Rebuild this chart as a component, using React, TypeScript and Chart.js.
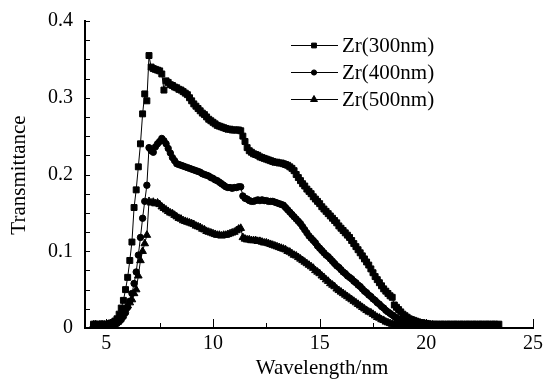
import { useEffect, useRef } from "react";
import { Chart, registerables } from "chart.js";

Chart.register(...registerables);

const wavelengths = [
  4.4, 4.5, 4.6, 4.7, 4.8, 4.9, 5.0, 5.1, 5.2, 5.3, 5.4, 5.5, 5.6, 5.7, 5.8, 5.9,
  6.0, 6.1, 6.2, 6.3, 6.4, 6.5, 6.6, 6.7, 6.8, 6.9, 7.0, 7.1, 7.2, 7.3, 7.4, 7.5, 7.6, 7.7, 7.8, 7.9,
  8.0, 8.1, 8.2, 8.3, 8.4, 8.5, 8.6, 8.7, 8.8, 8.9, 9.0, 9.1, 9.2, 9.3, 9.4, 9.5, 9.6, 9.7, 9.8, 9.9,
  10.0, 10.1, 10.2, 10.3, 10.4, 10.5, 10.6, 10.7, 10.8, 10.9, 11.0, 11.1, 11.2, 11.3, 11.4, 11.5, 11.6, 11.7, 11.8, 11.9,
  12.0, 12.1, 12.2, 12.3, 12.4, 12.5, 12.6, 12.7, 12.8, 12.9, 13.0, 13.1, 13.2, 13.3, 13.4, 13.5, 13.6, 13.7, 13.8, 13.9,
  14.0, 14.1, 14.2, 14.3, 14.4, 14.5, 14.6, 14.7, 14.8, 14.9, 15.0, 15.1, 15.2, 15.3, 15.4, 15.5, 15.6, 15.7, 15.8, 15.9,
  16.0, 16.1, 16.2, 16.3, 16.4, 16.5, 16.6, 16.7, 16.8, 16.9, 17.0, 17.1, 17.2, 17.3, 17.4, 17.5, 17.6, 17.7, 17.8, 17.9,
  18.0, 18.1, 18.2, 18.3, 18.4, 18.5, 18.6, 18.7, 18.8, 18.9, 19.0, 19.1, 19.2, 19.3, 19.4, 19.5, 19.6, 19.7, 19.8, 19.9,
  20.0, 20.1, 20.2, 20.3, 20.4, 20.5, 20.6, 20.7, 20.8, 20.9, 21.0, 21.1, 21.2, 21.3, 21.4, 21.5, 21.6, 21.7, 21.8, 21.9,
  22.0, 22.1, 22.2, 22.3, 22.4, 22.5, 22.6, 22.7, 22.8, 22.9, 23.0, 23.1, 23.2, 23.3, 23.4,
];

const zr300 = [
  0.005, 0.005, 0.004, 0.005, 0.005, 0.004, 0.005, 0.005, 0.006, 0.007, 0.009, 0.012, 0.018, 0.026, 0.036, 0.05,
  0.066, 0.088, 0.112, 0.157, 0.18, 0.21, 0.24, 0.279, 0.305, 0.296, 0.355, 0.34, 0.338, 0.337, 0.336, 0.335, 0.331, 0.31, 0.322, 0.32,
  0.317, 0.316, 0.314, 0.313, 0.311, 0.31, 0.308, 0.306, 0.304, 0.3, 0.296, 0.292, 0.289, 0.286, 0.283, 0.28, 0.278, 0.275, 0.272, 0.27,
  0.268, 0.266, 0.264, 0.263, 0.262, 0.261, 0.26, 0.259, 0.259, 0.258, 0.258, 0.258, 0.258, 0.257, 0.25, 0.243, 0.235, 0.231, 0.229, 0.227,
  0.226, 0.225, 0.223, 0.222, 0.221, 0.22, 0.219, 0.218, 0.217, 0.216, 0.216, 0.215, 0.215, 0.214, 0.213, 0.212, 0.21, 0.208, 0.205, 0.2,
  0.196, 0.192, 0.188, 0.185, 0.181, 0.178, 0.175, 0.171, 0.168, 0.165, 0.162, 0.158, 0.155, 0.152, 0.149, 0.146, 0.143, 0.14, 0.137, 0.133,
  0.13, 0.127, 0.124, 0.121, 0.118, 0.114, 0.11, 0.106, 0.102, 0.098, 0.094, 0.09, 0.086, 0.082, 0.077, 0.072, 0.067, 0.063, 0.059, 0.055,
  0.051, 0.048, 0.045, 0.042, 0.04, 0.03, 0.027, 0.024, 0.021, 0.018, 0.016, 0.014, 0.012, 0.011, 0.01, 0.009, 0.008, 0.007, 0.007, 0.006,
  0.006, 0.005, 0.005, 0.004, 0.005, 0.005, 0.004, 0.005, 0.005, 0.004, 0.005, 0.005, 0.004, 0.005, 0.005, 0.004, 0.005, 0.005, 0.004, 0.005,
  0.005, 0.004, 0.005, 0.005, 0.004, 0.005, 0.005, 0.004, 0.005, 0.005, 0.004, 0.005, 0.005, 0.004, 0.005,
];

const zr400 = [
  0.004, 0.005, 0.004, 0.004, 0.005, 0.004, 0.004, 0.005, 0.004, 0.005, 0.005, 0.006, 0.008, 0.011, 0.015, 0.02,
  0.027, 0.035, 0.045, 0.058, 0.073, 0.095, 0.118, 0.143, 0.165, 0.186, 0.235, 0.231, 0.229, 0.236, 0.24, 0.243, 0.247, 0.244, 0.24, 0.234,
  0.228, 0.222, 0.218, 0.214, 0.213, 0.212, 0.211, 0.21, 0.209, 0.208, 0.207, 0.206, 0.205, 0.204, 0.203, 0.201, 0.2, 0.199, 0.198, 0.196,
  0.195, 0.193, 0.192, 0.19, 0.188, 0.186, 0.184, 0.183, 0.183, 0.182, 0.183, 0.183, 0.184, 0.184, 0.172, 0.169, 0.168, 0.166, 0.165, 0.165,
  0.166, 0.167, 0.166, 0.167, 0.166, 0.166, 0.165, 0.165, 0.165, 0.164, 0.163, 0.162, 0.161, 0.16, 0.157, 0.154, 0.151, 0.148, 0.145, 0.142,
  0.139, 0.136, 0.132, 0.128, 0.124, 0.12, 0.117, 0.114, 0.111, 0.107, 0.104, 0.101, 0.098, 0.095, 0.093, 0.09, 0.087, 0.084, 0.081, 0.079,
  0.076, 0.073, 0.071, 0.068, 0.066, 0.064, 0.061, 0.059, 0.056, 0.054, 0.051, 0.048, 0.046, 0.043, 0.041, 0.038, 0.036, 0.033, 0.031, 0.028,
  0.026, 0.023, 0.021, 0.019, 0.017, 0.015, 0.013, 0.011, 0.01, 0.009, 0.008, 0.007, 0.007, 0.006, 0.006, 0.005, 0.005, 0.005, 0.004, 0.005,
  0.004, 0.005, 0.004, 0.004, 0.004,
];

const zr500 = [
  0.004, 0.004, 0.003, 0.004, 0.004, 0.004, 0.004, 0.005, 0.006, 0.007, 0.009, 0.011, 0.014, 0.018, 0.022, 0.026,
  0.029, 0.033, 0.037, 0.045, 0.05, 0.068, 0.088, 0.1, 0.11, 0.121, 0.165, 0.163, 0.164, 0.162, 0.163, 0.161, 0.158, 0.156, 0.154, 0.152,
  0.15, 0.149, 0.147, 0.145, 0.143, 0.142, 0.14, 0.139, 0.138, 0.137, 0.136, 0.135, 0.133, 0.132, 0.131, 0.129, 0.128, 0.126, 0.125, 0.124,
  0.123, 0.122, 0.121, 0.121, 0.12, 0.121, 0.121, 0.122, 0.123, 0.124, 0.125, 0.127, 0.129, 0.13, 0.118, 0.116, 0.115, 0.115, 0.114, 0.114,
  0.114, 0.113, 0.113, 0.112, 0.111, 0.111, 0.11, 0.109, 0.108, 0.107, 0.106, 0.105, 0.104, 0.103, 0.102, 0.1, 0.099, 0.097, 0.095, 0.094,
  0.092, 0.09, 0.088, 0.086, 0.084, 0.082, 0.08, 0.078, 0.075, 0.073, 0.071, 0.068, 0.066, 0.063, 0.061, 0.058, 0.056, 0.054, 0.051, 0.049,
  0.047, 0.045, 0.043, 0.041, 0.039, 0.037, 0.035, 0.033, 0.031, 0.029, 0.027, 0.025, 0.023, 0.021, 0.02, 0.018, 0.016, 0.014, 0.013, 0.011,
  0.01, 0.008, 0.007, 0.006, 0.005, 0.005, 0.004, 0.005, 0.004, 0.004, 0.004, 0.004, 0.003, 0.004, 0.004, 0.003, 0.004, 0.004, 0.003, 0.004,
  0.004, 0.003, 0.004, 0.004, 0.003,
];

const seriesLabels = ["Zr(300nm)", "Zr(400nm)", "Zr(500nm)"];
const seriesValues = [zr300, zr400, zr500];
const seriesMarkers = ["rect", "circle", "triangle"];
const xTitle = "Wavelength/nm";
const yTitle = "Transmittance";

const FONT = "'Liberation Serif', 'Times New Roman', serif";

const markerRadius: Record<string, number> = { rect: 4.2, circle: 3.2, triangle: 4.4 };
const legendRadius: Record<string, number> = { rect: 3.4, circle: 2.6, triangle: 4.0 };

function drawMarker(ctx: CanvasRenderingContext2D, style: string, x: number, y: number, r: number) {
  ctx.beginPath();
  if (style === "rect") {
    const s = Math.SQRT1_2 * r;
    ctx.rect(x - s, y - s, 2 * s, 2 * s);
  } else if (style === "circle") {
    ctx.arc(x, y, r, 0, Math.PI * 2);
  } else {
    let a = 0;
    ctx.moveTo(x + Math.sin(a) * r, y - Math.cos(a) * r);
    a += (2 * Math.PI) / 3;
    ctx.lineTo(x + Math.sin(a) * r, y - Math.cos(a) * r);
    a += (2 * Math.PI) / 3;
    ctx.lineTo(x + Math.sin(a) * r, y - Math.cos(a) * r);
    ctx.closePath();
  }
  ctx.fill();
  ctx.stroke();
}

const decorPlugin = {
  id: "decor",
  afterDraw(chart: any) {
    const ctx: CanvasRenderingContext2D = chart.ctx;
    const { left, bottom } = chart.chartArea;
    const xs = chart.scales.x;
    const ys = chart.scales.y;
    ctx.save();
    ctx.strokeStyle = "#000";
    ctx.fillStyle = "#000";
    ctx.lineWidth = 1;
    // inward tick marks
    ys.ticks.forEach((t: any) => {
      if (t.value <= ys.min) return;
      const p = Math.round(ys.getPixelForValue(t.value)) + 0.5;
      ctx.beginPath();
      ctx.moveTo(left, p);
      ctx.lineTo(left + 5, p);
      ctx.stroke();
    });
    xs.ticks.forEach((t: any) => {
      if (t.value <= xs.min) return;
      const major = Math.abs(t.value / 5 - Math.round(t.value / 5)) < 1e-6;
      const p = Math.round(xs.getPixelForValue(t.value)) + 0.5;
      ctx.beginPath();
      ctx.moveTo(p, bottom);
      ctx.lineTo(p, bottom - (major ? 9 : 5));
      ctx.stroke();
    });
    // axis titles
    ctx.font = `21px ${FONT}`;
    ctx.textAlign = "center";
    ctx.textBaseline = "alphabetic";
    ctx.fillText(xTitle, 322, 374);
    ctx.save();
    ctx.translate(25, 175);
    ctx.rotate(-Math.PI / 2);
    ctx.fillText(yTitle, 0, 0);
    ctx.restore();
    // legend
    const rows = [45, 72, 99];
    seriesLabels.forEach((label, i) => {
      const y = rows[i] + 0.5;
      ctx.beginPath();
      ctx.moveTo(291, y);
      ctx.lineTo(338, y);
      ctx.stroke();
      drawMarker(ctx, seriesMarkers[i], 314, y, legendRadius[seriesMarkers[i]]);
      ctx.textAlign = "left";
      ctx.textBaseline = "middle";
      ctx.font = `21px ${FONT}`;
      ctx.fillText(label, 342, rows[i] + 1);
    });
    ctx.restore();
  },
};

export default function App() {
  const ref = useRef<HTMLCanvasElement | null>(null);
  useEffect(() => {
    if (!ref.current) return;
    const datasets = seriesValues.map((vals, i) => ({
      label: seriesLabels[i],
      data: vals.map((v, j) => ({ x: wavelengths[j], y: v })),
      borderColor: "#000",
      backgroundColor: "#000",
      borderWidth: 1,
      pointStyle: seriesMarkers[i],
      pointRadius: markerRadius[seriesMarkers[i]],
      pointBackgroundColor: "#000",
      pointBorderColor: "#000",
      pointBorderWidth: 1,
      tension: 0,
    }));
    const chart = new Chart(ref.current, {
      type: "line",
      data: { datasets },
      options: {
        animation: false,
        responsive: false,
        devicePixelRatio: 1,
        events: [],
        layout: { padding: { top: 20, right: 14, left: 0, bottom: 0 } },
        plugins: { legend: { display: false }, tooltip: { enabled: false } },
        scales: {
          x: {
            type: "linear",
            min: 4,
            max: 25,
            grid: { display: false, drawTicks: false },
            border: { display: true, color: "#000", width: 2 },
            ticks: {
              stepSize: 2.5,
              maxTicksLimit: 10,
              autoSkip: false,
              maxRotation: 0,
              padding: 4,
              color: "#000",
              font: { family: FONT, size: 20 },
              callback: (v: any) => {
                const n = Number(v);
                return Math.abs(n / 5 - Math.round(n / 5)) < 1e-6 ? String(Math.round(n)) : "";
              },
            },
            afterFit: (s: any) => {
              s.height = 56;
            },
          },
          y: {
            type: "linear",
            min: 0,
            max: 0.4,
            grid: { display: false, drawTicks: false },
            border: { display: true, color: "#000", width: 2 },
            ticks: {
              stepSize: 0.025,
              maxTicksLimit: 17,
              autoSkip: false,
              padding: 12,
              color: "#000",
              font: { family: FONT, size: 20, lineHeight: 0.9 },
              callback: (v: any) => {
                const n = Number(v);
                if (Math.abs(n * 10 - Math.round(n * 10)) > 1e-6) return "";
                return n === 0 ? "0" : n.toFixed(1);
              },
            },
            afterFit: (s: any) => {
              s.width = 85;
            },
          },
        },
      },
      plugins: [decorPlugin],
    });
    return () => chart.destroy();
  }, []);
  return (
    <div style={{ position: "absolute", left: 0, top: 0, width: 547, height: 384, background: "#fff" }}>
      <canvas ref={ref} width={547} height={384} style={{ display: "block" }} />
    </div>
  );
}
